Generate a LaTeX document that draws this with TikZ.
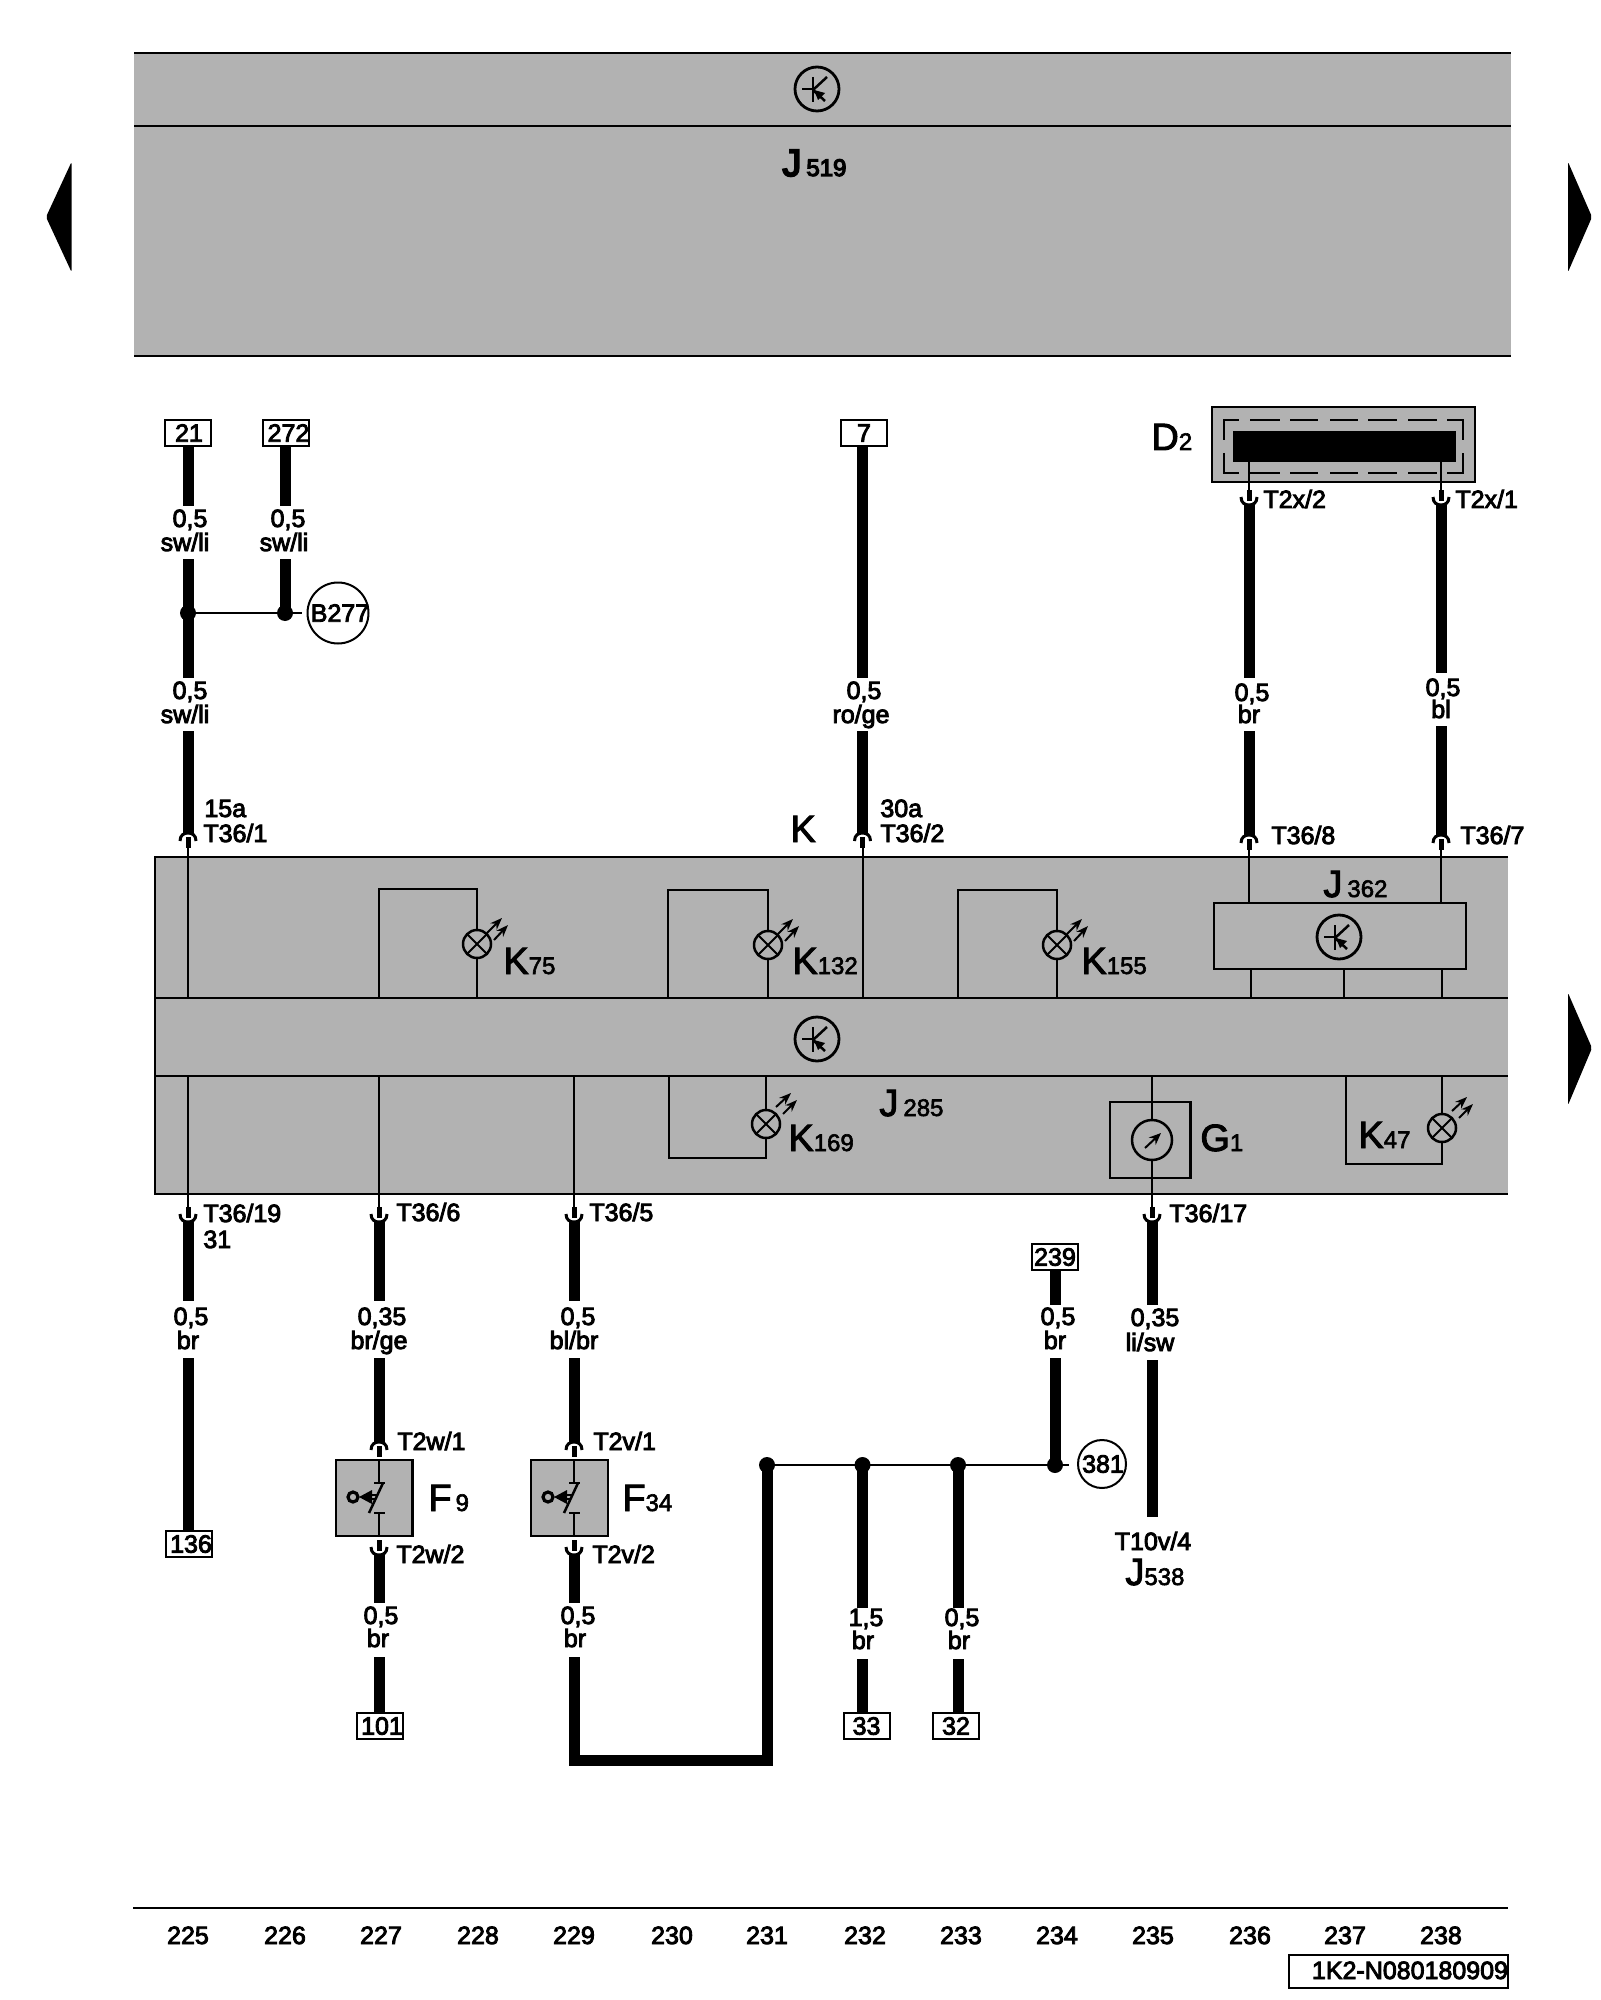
\documentclass[tikz,border=0pt]{standalone}
\usepackage{fontspec}
\usetikzlibrary{arrows.meta}
\setmainfont{Liberation Sans}
\newfontfamily\lf[FakeBold=3.5]{Liberation Sans}
\newfontfamily\bigf[FakeBold=2.5]{Liberation Sans}
\newfontfamily\hf[FakeBold=5]{Liberation Sans}
\definecolor{panel}{HTML}{B2B2B2}
\newcommand{\tagsub}[1]{{\fontsize{12}{13}\selectfont #1}}
\tikzset{
  x=0.5pt,y=-0.5pt,
  wire/.style={line width=5.5pt,line cap=butt},
  thinw/.style={line width=1.25pt,line cap=butt},
  lbl/.style={anchor=base,inner sep=0pt,font=\lf\fontsize{12.5}{14}\selectfont},
  lblw/.style={anchor=base west,inner sep=0pt,font=\lf\fontsize{12.5}{14}\selectfont},
  tagl/.style={anchor=base west,inner sep=0pt,font=\bigf\fontsize{19}{20}\selectfont},
  term/.style={draw,line width=1pt,fill=white,minimum width=23pt,minimum height=13pt,inner sep=0pt,font=\lf\fontsize{12.5}{14}\selectfont},
  dot/.style={circle,fill=black,minimum size=8pt,inner sep=0pt},
  capup/.pic={
    \draw[line width=1.5pt] (-8,8) .. controls (-8,2) and (-4,0) .. (0,0) .. controls (4,0) and (8,2) .. (8,8);
    \draw[line width=2.5pt] (0,4) -- (0,15);
  },
  capdown/.pic={
    \draw[line width=1.5pt] (-8,-8) .. controls (-8,-2) and (-4,0) .. (0,0) .. controls (4,0) and (8,-2) .. (8,-8);
    \draw[line width=2.5pt] (0,-4) -- (0,-15);
  },
  transistor/.pic={
    \draw[line width=1.4pt] (0,0) circle[radius=11pt];
    \draw[line width=1.25pt] (-4,-12) -- (-4,13);
    \draw[line width=1.25pt] (-15,0) -- (-4,0);
    \draw[line width=1.25pt] (-4,1) -- (10,-12);
    \draw[line width=1.25pt] (-4,1) -- (8,12);
    \fill (-3,1) -- (8,4) -- (1,11) -- cycle;
  },
  lamparrows/.style={line width=1pt,-{Stealth[length=6pt,width=4.5pt]}},
  lamp/.pic={
    \filldraw[fill=panel,line width=1.25pt] (0,0) circle[radius=7pt];
    \draw[line width=1pt] (-10,-10) -- (10,10) (-10,10) -- (10,-10);
    \draw[lamparrows] (10,-11) -- (25,-26);
    \draw[lamparrows] (17,-4) -- (31,-19);
  },
  lampb/.pic={
    \filldraw[fill=panel,line width=1.25pt] (0,0) circle[radius=7pt];
    \draw[line width=1pt] (-10,-10) -- (10,10) (-10,10) -- (10,-10);
    \draw[lamparrows] (10,-17) -- (25,-31);
    \draw[lamparrows] (17,-10) -- (31,-24);
  },
  switchsym/.pic={
    \draw[thinw] (0,-37) -- (0,-14) (0,16) -- (0,39);
    \draw[line width=1.25pt] (-5,-14) -- (6,-14) (-5,16) -- (6,16);
    \draw[line width=1.25pt] (-10,16) -- (4,-14);
    \draw[line width=1.6pt] (-26,0) circle[radius=2.5pt];
    \fill (-20,0) -- (-7,-7) -- (-7,7) -- cycle;
    \draw[line width=.8pt] (-8,-2) -- (-2,-2) (-8,2) -- (-3,2);
  },
}
\begin{document}
\begin{tikzpicture}
\useasboundingbox (0,0) rectangle (1600,2000);
\fill[white] (0,0) rectangle (1600,2000);

% top control unit J519
\fill[panel] (134,53) rectangle (1511,356);
\draw[thinw] (134,53) -- (1511,53) (134,126) -- (1511,126) (134,356) -- (1511,356);
\pic at (817,89) {transistor};
\node[tagl,font=\hf\fontsize{19}{20}\selectfont] (j519) at (782,176) {J\kern2.5pt\tagsub{519}};

% page arrows
\fill[rounded corners=1pt] (71.5,162) -- (46,217) -- (71.5,272) -- cycle;
\fill[rounded corners=1pt] (1568,162) -- (1592,217) -- (1568,272) -- cycle;
\fill[rounded corners=1pt] (1568,993) -- (1592,1048) -- (1568,1105) -- cycle;

% instrument cluster K
\fill[panel] (155,857) rectangle (1508,1194);
\draw[thinw] (1508,857) -- (155,857) -- (155,1194) -- (1508,1194);
\draw[thinw] (155,998) -- (1508,998) (155,1076) -- (1508,1076);
\pic at (817,1039) {transistor};

% terminals
\node[term] (t21) at (188,433) {\makebox[0pt]{\kern1pt 21}};
\node[term] (t272) at (286,433) {\makebox[0pt]{\kern2.5pt 272}};
\node[term] (t7) at (864,433) {7};
\node[term] (t136) at (189,1544) {\makebox[0pt]{\kern2pt 136}};
\node[term] (t239) at (1055,1257) {239};
\node[term] (t101) at (380,1726) {\makebox[0pt]{\kern2pt 101}};
\node[term] (t33) at (866.5,1726) {33};
\node[term] (t32) at (956,1726) {32};

% junction nodes
\node[dot] (j1) at (188,613) {};
\node[dot] (j2) at (285,613) {};
\node[dot] (j3) at (767,1465) {};
\node[dot] (j4) at (862.5,1465) {};
\node[dot] (j5) at (958,1465) {};
\node[dot] (j6) at (1055,1465) {};
\node[circle,draw,line width=1pt,minimum size=30.5pt,inner sep=0pt,lbl,anchor=center] (b277) at (338,613) {\makebox[0pt]{\kern2pt B277}};
\node[circle,draw,line width=1pt,minimum size=24pt,inner sep=0pt,lbl,anchor=center] (g381) at (1102,1464) {\makebox[0pt]{\kern1pt 381}};
\coordinate (b277e) at (302,613);
\coordinate (g381e) at (1069,1465);
\draw[thinw] (j1.center) -- (j2.center) -- (b277e);
\draw[thinw] (j3.center) -- (j4.center) -- (j5.center) -- (j6.center) -- (g381e);

% wire points
\coordinate (a1) at (188,506); \coordinate (a2) at (188,559); \coordinate (a3) at (188,678);
\coordinate (a4) at (188,731); \coordinate (a5) at (188,833);
\coordinate (b1) at (285,506); \coordinate (b2) at (285,559);
\coordinate (c1) at (862.5,678); \coordinate (c2) at (862.5,731); \coordinate (c3) at (862.5,833);
\coordinate (d1) at (1249,505); \coordinate (d2) at (1249,678); \coordinate (d3) at (1249,731); \coordinate (d4) at (1249,835);
\coordinate (e1) at (1441,505); \coordinate (e2) at (1441,673); \coordinate (e3) at (1441,726); \coordinate (e4) at (1441,835);
\coordinate (f1) at (188,1222); \coordinate (f2) at (188,1301); \coordinate (f3) at (188,1358);
\coordinate (g1) at (379,1222); \coordinate (g2) at (379,1301); \coordinate (g3) at (379,1358); \coordinate (g4) at (379,1442);
\coordinate (g5) at (379,1555); \coordinate (g6) at (379,1603); \coordinate (g7) at (379,1657);
\coordinate (h1) at (574,1222); \coordinate (h2) at (574,1301); \coordinate (h3) at (574,1358); \coordinate (h4) at (574,1442);
\coordinate (h5) at (574,1555); \coordinate (h6) at (574,1603); \coordinate (h7) at (574,1657);
\coordinate (h8) at (574,1760); \coordinate (h9) at (767,1760);
\coordinate (m1) at (862.5,1608); \coordinate (m2) at (862.5,1659);
\coordinate (n1) at (958,1608); \coordinate (n2) at (958,1659);
\coordinate (o1) at (1055,1305); \coordinate (o2) at (1055,1358);
\coordinate (p1) at (1152,1222); \coordinate (p2) at (1152,1305); \coordinate (p3) at (1152,1360); \coordinate (p4) at (1152,1517);

% thick wires
\draw[wire] (t21.south) -- (a1);
\draw[wire] (a2) -- (j1.center) -- (a3);
\draw[wire] (a4) -- (a5);
\draw[wire] (t272.south -| b1) -- (b1);
\draw[wire] (b2) -- (j2.center);
\draw[wire] (t7.south -| c1) -- (c1);
\draw[wire] (c2) -- (c3);
\draw[wire] (d1) -- (d2);
\draw[wire] (d3) -- (d4);
\draw[wire] (e1) -- (e2);
\draw[wire] (e3) -- (e4);
\draw[wire] (f1) -- (f2);
\draw[wire] (f3) -- (t136.north -| f3);
\draw[wire] (g1) -- (g2);
\draw[wire] (g3) -- (g4);
\draw[wire] (g5) -- (g6);
\draw[wire] (g7) -- (t101.north -| g7);
\draw[wire] (h1) -- (h2);
\draw[wire] (h3) -- (h4);
\draw[wire] (h5) -- (h6);
\draw[wire,line join=miter] (h7) -- (h8) -- (h9) -- (j3.center);
\draw[wire] (j4.center) -- (m1);
\draw[wire] (m2) -- (t33.north -| m2);
\draw[wire] (j5.center) -- (n1);
\draw[wire] (n2) -- (t32.north -| n2);
\draw[wire] (t239.south) -- (o1);
\draw[wire] (o2) -- (j6.center);
\draw[wire] (p1) -- (p2);
\draw[wire] (p3) -- (p4);

% connector caps
\foreach \cx/\cy in {188/833,862.5/833,1249/835,1441/835,379/1442,574/1442}{\pic at (\cx,\cy) {capup};}
\foreach \cx/\cy in {188/1222,379/1222,574/1222,1152/1222,379/1555,574/1555,1249/505,1441/505}{\pic at (\cx,\cy) {capdown};}

% thin lines inside the cluster
\draw[thinw] (188,845) -- (188,998);
\draw[thinw] (863,845) -- (863,998);
\draw[thinw] (1249,845) -- (1249,903) (1441,845) -- (1441,903);
\draw[thinw] (1251,969) -- (1251,998) (1344,969) -- (1344,998) (1442,969) -- (1442,998);
\draw[thinw] (188,1076) -- (188,1208) (379,1076) -- (379,1208) (574,1076) -- (574,1208);
\draw[thinw] (379,998) |- (477,889) -- (477,998);
\draw[thinw] (668,998) |- (768,890) -- (768,998);
\draw[thinw] (958,998) |- (1057,890) -- (1057,998);
\draw[thinw] (669,1076) |- (766,1158) -- (766,1076);
\draw[thinw] (1346,1075) |- (1442,1164) -- (1442,1075);
\draw[thinw] (1214,903) rectangle (1466,969);
\pic at (1339,937) {transistor};
\pic at (477,944) {lamp};
\pic at (768,945) {lamp};
\pic at (1057,945) {lamp};
\pic at (766,1124) {lampb};
\pic at (1442,1128) {lampb};

% gauge G1
\draw[thinw] (1110,1102) rectangle (1190.5,1178);
\node[circle,draw,line width=1.25pt,minimum size=20pt,inner sep=0pt] (gauge) at (1152,1140) {};
\coordinate (gt) at (1152,1076);
\coordinate (gb) at (1152,1208);
\draw[thinw] (gt) -- (gauge.north);
\draw[thinw] (gauge.south) -- (gb);
\draw[line width=1pt,-{Stealth[length=6pt,width=5pt]}] (1145,1148) -- (1161,1133);

% switches F9 and F34
\filldraw[fill=panel,line width=1.25pt] (336,1460) rectangle (412.5,1536);
\filldraw[fill=panel,line width=1.25pt] (531,1460) rectangle (608,1536);
\pic at (379,1497) {switchsym};
\pic at (574,1497) {switchsym};

% D2
\filldraw[fill=panel,line width=1.25pt] (1212,407) rectangle (1475,482);
\draw[line width=1pt]
  (1224,440) -- (1224,420) -- (1239,420)
  (1250,420) -- (1280,420) (1290,420) -- (1318,420) (1330,420) -- (1358,420) (1368,420) -- (1397,420) (1408,420) -- (1437,420)
  (1447,420) -- (1463,420) -- (1463,440)
  (1224,453) -- (1224,473) -- (1239,473)
  (1250,473) -- (1280,473) (1290,473) -- (1318,473) (1330,473) -- (1358,473) (1368,473) -- (1397,473) (1408,473) -- (1437,473)
  (1447,473) -- (1463,473) -- (1463,453);
\fill (1233,431) rectangle (1456,462);
\draw[thinw] (1249,462) -- (1249,492) (1441,462) -- (1441,492);

% part labels
\node[tagl] (kk) at (790,842) {K};
\node[tagl] (d2lab) at (1151,450) {D\tagsub{2}};
\node[tagl] (k75) at (503,974) {K\tagsub{75}};
\node[tagl] (k132) at (792,974) {K\tagsub{132}};
\node[tagl] (k155) at (1081,974) {K\tagsub{155}};
\node[tagl] (k169) at (788,1151) {K\tagsub{169}};
\node[tagl] (k47) at (1358,1148) {K\tagsub{47}};
\node[tagl] (g1lab) at (1200,1151) {G\tagsub{1}};
\node[tagl] (j362) at (1323,897) {J\kern2.5pt\tagsub{362}};
\node[tagl] (j285) at (879,1116) {J\kern2.5pt\tagsub{285}};
\node[tagl] (j538) at (1125,1585) {J\tagsub{538}};
\node[tagl] (f9) at (428,1511) {F\kern2pt\tagsub{9}};
\node[tagl] (f34) at (622,1511) {F\tagsub{34}};

% wire labels
\node[lbl] (w1) at (190,527) {0,5};
\node[lbl] (w2) at (185,551) {sw/li};
\node[lbl] (w3) at (288,527) {0,5};
\node[lbl] (w4) at (284,551) {sw/li};
\node[lbl] (w5) at (190,699) {0,5};
\node[lbl] (w6) at (185,723) {sw/li};
\node[lbl] (w7) at (864,699) {0,5};
\node[lbl] (w8) at (861,723) {ro/ge};
\node[lbl] (w9) at (1252,701) {0,5};
\node[lbl] (w10) at (1249,723) {br};
\node[lbl] (w11) at (1443,696) {0,5};
\node[lbl] (w12) at (1441,718) {bl};
\node[lbl] (w13) at (191,1325) {0,5};
\node[lbl] (w14) at (188,1349) {br};
\node[lbl] (w15) at (382,1325) {0,35};
\node[lbl] (w16) at (379,1349) {br/ge};
\node[lbl] (w17) at (578,1325) {0,5};
\node[lbl] (w18) at (574,1349) {bl/br};
\node[lbl] (w19) at (1058,1325) {0,5};
\node[lbl] (w20) at (1055,1349) {br};
\node[lbl] (w21) at (1155,1326) {0,35};
\node[lbl] (w22) at (1150,1351) {li/sw};
\node[lbl] (w23) at (381,1624) {0,5};
\node[lbl] (w24) at (378,1647) {br};
\node[lbl] (w25) at (578,1624) {0,5};
\node[lbl] (w26) at (575,1647) {br};
\node[lbl] (w27) at (866,1626) {1,5};
\node[lbl] (w28) at (863,1649) {br};
\node[lbl] (w29) at (962,1626) {0,5};
\node[lbl] (w30) at (959,1649) {br};

% pin labels
\node[lblw] (p15a) at (204,817) {15a};
\node[lblw] (pt1) at (203,842) {T36/1};
\node[lblw] (p30a) at (880,817) {30a};
\node[lblw] (pt2) at (880,842) {T36/2};
\node[lblw] (pt8) at (1271,844) {T36/8};
\node[lblw] (pt7) at (1460,844) {T36/7};
\node[lblw] (px2) at (1263,508) {T2x/2};
\node[lblw] (px1) at (1455,508) {T2x/1};
\node[lblw] (pt19) at (203,1222) {T36/19};
\node[lblw] (p31) at (203,1248) {31};
\node[lblw] (pt6) at (396,1221) {T36/6};
\node[lblw] (pt5) at (589,1221) {T36/5};
\node[lblw] (pt17) at (1169,1222) {T36/17};
\node[lblw] (pw1) at (397,1450) {T2w/1};
\node[lblw] (pw2) at (396,1563) {T2w/2};
\node[lblw] (pv1) at (593,1450) {T2v/1};
\node[lblw] (pv2) at (592,1563) {T2v/2};
\node[lbl] (pt10) at (1153,1550) {T10v/4};

% footer
\draw[thinw] (133,1908) -- (1508,1908);
\node[lbl] (n225) at (188,1944) {225};
\node[lbl] (n226) at (285,1944) {226};
\node[lbl] (n227) at (381,1944) {227};
\node[lbl] (n228) at (478,1944) {228};
\node[lbl] (n229) at (574,1944) {229};
\node[lbl] (n230) at (672,1944) {230};
\node[lbl] (n231) at (767,1944) {231};
\node[lbl] (n232) at (865,1944) {232};
\node[lbl] (n233) at (961,1944) {233};
\node[lbl] (n234) at (1057,1944) {234};
\node[lbl] (n235) at (1153,1944) {235};
\node[lbl] (n236) at (1250,1944) {236};
\node[lbl] (n237) at (1345,1944) {237};
\node[lbl] (n238) at (1441,1944) {238};
\draw[thinw] (1289,1955) rectangle (1508,1988);
\node[lbl] (code) at (1410,1979) {1K2-N080180909};
\end{tikzpicture}
\end{document}
